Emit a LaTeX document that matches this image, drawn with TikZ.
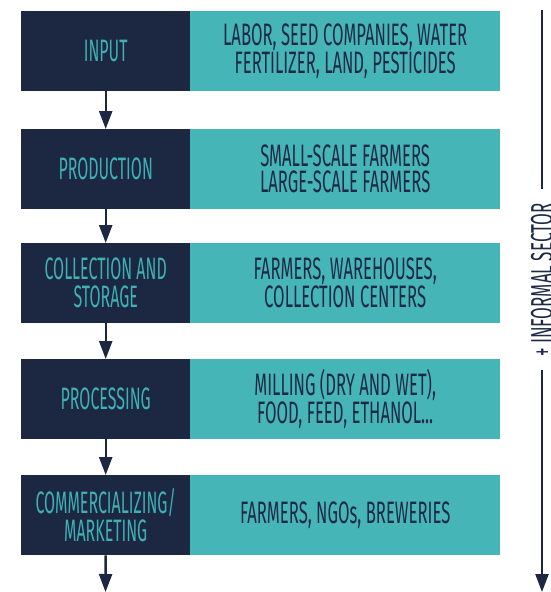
\documentclass[tikz,border=0pt]{standalone}
\usepackage{fontspec}
\setmainfont{Fira Sans}[FakeStretch=0.55]
\newfontfamily\leftfont{Fira Sans}[FakeStretch=0.515]
\newfontfamily\rightfont{Fira Sans}[FakeStretch=0.537]
\usetikzlibrary{arrows.meta}
\definecolor{navybox}{HTML}{1C2742}
\definecolor{tealbox}{HTML}{45B5B8}
\definecolor{tealtext}{HTML}{3FB0B3}
\definecolor{navytext}{HTML}{1E2A45}
\tikzset{
  stagebox/.style={fill=navybox, text=tealtext, minimum width=169pt, minimum height=80pt,
    inner sep=0pt, anchor=north west, align=center, font=\leftfont\fontsize{31}{28}\selectfont},
  detailbox/.style={fill=tealbox, text=navytext, minimum width=310pt, minimum height=80pt,
    inner sep=0pt, anchor=north west, align=center, font=\rightfont\fontsize{31}{26}\selectfont},
  flowarrow/.style={draw=navybox, line width=2.4pt, -{Triangle[width=13pt,length=18pt]}},
  sidetext/.style={text=navytext, font=\fontsize{31}{28}\selectfont, rotate=90, inner sep=0pt},
}
\begin{document}
\begin{tikzpicture}[x=1pt,y=-1pt]
\useasboundingbox (0,0) rectangle (551,592);
\node[stagebox] (l1) at (21,11) {INPUT};
\node[detailbox] (r1) at (190,11) {LABOR, SEED COMPANIES, WATER\\FERTILIZER, LAND, PESTICIDES};
\node[stagebox] (l2) at (21,129) {PRODUCTION};
\node[detailbox] (r2) at (190,129) {SMALL-SCALE FARMERS\\LARGE-SCALE FARMERS};
\node[stagebox] (l3) at (21,243) {COLLECTION AND\\STORAGE};
\node[detailbox] (r3) at (190,243) {FARMERS, WAREHOUSES,\\COLLECTION CENTERS};
\node[stagebox] (l4) at (21,359) {PROCESSING};
\node[detailbox] (r4) at (190,359) {MILLING (DRY AND WET),\\FOOD, FEED, ETHANOL...};
\node[stagebox] (l5) at (21,475) {COMMERCIALIZING/\\MARKETING};
\node[detailbox] (r5) at (190,475) {FARMERS, NGOs, BREWERIES};
\coordinate (lend) at (105.5,592);
\draw[flowarrow] (l1.south) -- (l2.north);
\draw[flowarrow] (l2.south) -- (l3.north);
\draw[flowarrow] (l3.south) -- (l4.north);
\draw[flowarrow] (l4.south) -- (l5.north);
\draw[flowarrow] (l5.south) -- (lend);
\node[sidetext] (inf) at (542,280) {+ INFORMAL SECTOR};
\coordinate (stop) at (542,10);
\coordinate (sbot) at (542,592);
\draw[navybox, line width=2.4pt] (stop) -- ([yshift=14pt]inf.east);
\draw[flowarrow] ([yshift=-13pt]inf.west) -- (sbot);
\end{tikzpicture}
\end{document}
